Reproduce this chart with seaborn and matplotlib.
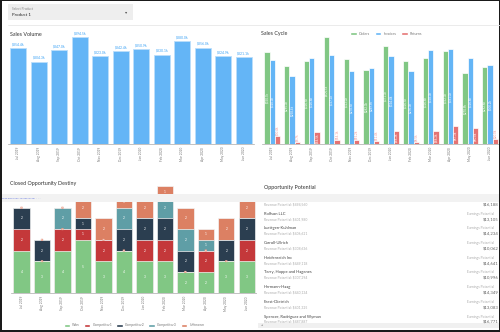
import numpy as np
import pandas as pd
import matplotlib
matplotlib.use("Agg")
import matplotlib.pyplot as plt
import seaborn as sns
from matplotlib.patches import Rectangle, Patch

# ---------------- data ----------------
months = ["Jul 2019", "Aug 2019", "Sep 2019", "Oct 2019", "Nov 2019", "Dec 2019",
          "Jan 2020", "Feb 2020", "Mar 2020", "Apr 2020", "May 2020", "Jun 2020"]
sales_volume = [354.4, 304.3, 347.0, 394.5, 323.0, 342.4, 350.9, 330.1, 380.0, 356.0, 324.9, 321.1]

orders = [350.7, 295.3, 316.5, 405.5, 323.0, 282.3, 371.3, 316.5, 326.8, 352.3, 270.9, 292.6]
invoices = [320.3, 258.4, 326.8, 337.1, 278.5, 289.9, 334.4, 276.3, 358.3, 361.0, 326.8, 300.2]
returns = [30.4, 8.7, 44.5, 14.1, 15.2, 11.4, 48.3, 6.5, 48.3, 67.3, 60.8, 20.0]
cycle_types = ["Orders", "Invoices", "Returns"]

won = [4, 3, 4, 5, 3, 4, 3, 3, 2, 2, 3, 3]
competitor1 = [2, 0, 2, 1, 2, 0, 2, 2, 0, 2, 0, 2]
competitor2 = [2, 2, 0, 1, 0, 2, 2, 2, 2, 0, 2, 2]
competitor3 = [0, 0, 2, 0, 0, 2, 0, 2, 2, 1, 0, 0]
unknown = [0, 0, 0, 2, 2, 1, 2, 1, 2, 1, 2, 2]
destiny_names = ["Won", "Competitor1", "Competitor2", "Competitor3", "Unknown"]

opp_first_revenue = 494560
opp_first_earnings = 16188
opp_names = ["Rolfson LLC", "Luettgen-Kuhlman", "Carroll-Ullrich", "Heidenreich Inc",
             "Terry, Hoppe and Hagenes", "Hermann-Haag", "Feest-Dietrich",
             "Spencer, Rodriguez and Wyman"]
opp_revenue = [401980, 406621, 308636, 449118, 307294, 440134, 401325, 487887]
opp_earnings = [13105, 14234, 10062, 14641, 10996, 14349, 13083, 16771]

# ---------------- style ----------------
sns.set_style("white")
plt.rcParams["font.family"] = ["Lato", "DejaVu Sans"]

GREEN, BLUE, RED = "#81c784", "#64b5f6", "#e57373"
DEST_COLORS = ["#81c784", "#c4383a", "#2b3e50", "#5f9ea6", "#dc8063"]

W, H = 500, 332
fig = plt.figure(figsize=(W / 100, H / 100), dpi=100)
fig.patch.set_facecolor("white")


def rect(x0, y0, x1, y1):
    return [x0 / W, 1 - y1 / H, (x1 - x0) / W, (y1 - y0) / H]


def style_cat_axis(ax, n):
    for s in ["top", "right", "left"]:
        ax.spines[s].set_visible(False)
    ax.spines["bottom"].set_color("#aaaaaa")
    ax.spines["bottom"].set_linewidth(0.5)
    ax.set_yticks([])
    ax.set_xlabel("")
    ax.set_ylabel("")
    ax.tick_params(axis="x", which="major", length=0, labelsize=2.3,
                   labelcolor="#777777", labelrotation=90, pad=2)
    ax.set_xticks(np.arange(n + 1) - 0.5, minor=True)
    ax.tick_params(axis="x", which="minor", length=1.5, width=0.4, color="#999999")
    ax.set_facecolor("none")


# ---------------- Sales Volume ----------------
ax_sv = fig.add_axes(rect(8, 30, 254, 144))
sv_df = pd.DataFrame({"month": months, "volume": sales_volume})
sns.barplot(data=sv_df, x="month", y="volume", color=BLUE, saturation=1, width=0.8,
            edgecolor="#bbdefb", linewidth=0.6, ax=ax_sv)
ax_sv.set_xlim(-0.5, 11.38)
ax_sv.set_ylim(0, 114 * 3.69)
style_cat_axis(ax_sv, len(months))
lbls = ax_sv.bar_label(ax_sv.containers[0], labels=[f"${v:.1f}k" for v in sales_volume],
                       padding=1.2, fontsize=2.5, color="#42a5f5")
for t in lbls:
    t.set_clip_on(True)

# ---------------- Sales Cycle ----------------
ax_sc = fig.add_axes(rect(262.3, 30, 500, 144))
sc_df = pd.DataFrame({
    "month": months * 3,
    "type": ["Orders"] * 12 + ["Invoices"] * 12 + ["Returns"] * 12,
    "value": orders + invoices + returns,
})
sns.barplot(data=sc_df, x="month", y="value", hue="type", hue_order=cycle_types,
            palette=[GREEN, BLUE, RED], saturation=1, width=0.8,
            edgecolor="white", linewidth=0.5, ax=ax_sc, legend=False)
ax_sc.set_xlim(-0.5, 11.04)
ax_sc.set_ylim(0, 114 * 3.8)
style_cat_axis(ax_sc, len(months))
for cont, vals in zip(ax_sc.containers[:2], [orders, invoices]):
    ax_sc.bar_label(cont, labels=[f"${v:.1f}k" for v in vals], label_type="center",
                    rotation=90, fontsize=2.2, color="white")
ret_c = ax_sc.containers[2]
inside = [f"${v:.1f}k" if v >= 40 else "" for v in returns]
outside = [f"${v:.1f}k" if v < 40 else "" for v in returns]
ax_sc.bar_label(ret_c, labels=inside, label_type="center", rotation=90, fontsize=2.2,
                color="white")
ax_sc.bar_label(ret_c, labels=outside, label_type="edge", rotation=90, fontsize=2.2,
                color="#ef9a9a", padding=0.8)
ax_sc.legend(handles=[Patch(facecolor=c, edgecolor="white") for c in [GREEN, BLUE, RED]],
             labels=cycle_types, loc="center", bbox_to_anchor=(386 / W, 1 - 34 / H),
             bbox_transform=fig.transFigure, ncol=3, frameon=False, fontsize=2.6,
             handlelength=1.9, handleheight=1.0, handletextpad=0.5, columnspacing=1.3,
             labelcolor="#777777")

# ---------------- Closed Opportunity Destiny ----------------
ax_co = fig.add_axes(rect(11.3, 184.2, 257, 293.3))
layers = [won, competitor1, competitor2, competitor3, unknown]
cums = np.cumsum(np.array(layers), axis=0)
for k in range(len(layers) - 1, -1, -1):
    sns.barplot(x=months, y=cums[k], color=DEST_COLORS[k], saturation=1, width=0.8,
                edgecolor="#f4f4f4", linewidth=0.5, ax=ax_co)
ax_co.set_xlim(-0.5, 11.37)
ax_co.set_ylim(0, 10.2)
style_cat_axis(ax_co, len(months))
for k, vals in enumerate(layers):
    bottoms = cums[k] - np.array(vals)
    for i, v in enumerate(vals):
        if v > 0:
            ax_co.text(i, bottoms[i] + v / 2, str(v), ha="center", va="center",
                       fontsize=2.3, color="white", clip_on=True)
        elif k in (1, 2, 4):
            ax_co.text(i, bottoms[i], "0", ha="center", va="center", fontsize=1.6,
                       color="white", clip_on=True,
                       bbox=dict(boxstyle="round,pad=0.25", fc="#e9a08c", ec="none"))
ax_co.legend(handles=[Patch(facecolor=c, edgecolor="white") for c in DEST_COLORS],
             labels=destiny_names, loc="center", bbox_to_anchor=(134 / W, 1 - 325.3 / H),
             bbox_transform=fig.transFigure, ncol=5, frameon=False, fontsize=2.5,
             handlelength=1.9, handleheight=1.0, handletextpad=0.6, columnspacing=1.1,
             labelcolor="#777777")

# ---------------- overlay (panels, titles, list) ----------------
ov = fig.add_axes([0, 0, 1, 1], zorder=10)
ov.set_xlim(0, W)
ov.set_ylim(H, 0)
ov.axis("off")
ov.patch.set_alpha(0)

# product selector
ov.add_patch(Rectangle((8, 4), 125, 16, fc="#eeeeee", ec="none"))
ov.text(12, 8.6, "Select Product", fontsize=2.3, color="#888888", va="center")
ov.text(12, 14.6, "Product 1", fontsize=3.2, color="#222222", va="center")
ov.text(126, 12, "▾", fontsize=3.2, color="#555555", va="center", ha="center",
        family=["DejaVu Sans"])
ov.plot([8, 500], [25, 25], color="#e8e8e8", lw=0.6)

# titles
title_kw = dict(fontsize=3.9, color="#333333", va="center")
ov.text(10, 34, "Sales Volume", **title_kw)
ov.text(261, 34, "Sales Cycle", **title_kw)
ov.text(10, 184, "Closed Opportunity Destiny", **title_kw)

# opportunity panel background
ov.add_patch(Rectangle((257, 176), 243, 154, fc="white", ec="none"))
ov.text(264, 187, "Opportunity Potential", **title_kw)

# grey band across both lower panels
ov.add_patch(Rectangle((0, 194), 500, 8, fc="#f2f2f2", ec="none"))
ov.text(2, 198.6, "2020 Ryan Chen  Salesforce.com  ·  ·  ·", fontsize=1.6, color="#5b6ee1",
        va="center")

# opportunity list
ov.text(264, 204.3, f"Revenue Potential: ${opp_first_revenue:,}", fontsize=2.4,
        color="#aaaaaa", va="center")
ov.text(483, 204.3, f"${opp_first_earnings:,}", fontsize=3.1, color="#666666", va="center")
for i, (nm, rv, er) in enumerate(zip(opp_names, opp_revenue, opp_earnings)):
    y = 213.7 + 14.7 * i
    ov.text(264, y, nm, fontsize=3.0, color="#444444", va="center")
    ov.text(264, y + 5.3, f"Revenue Potential: ${rv:,}", fontsize=2.4, color="#aaaaaa",
            va="center")
    ov.text(467, y, "Earnings Potential", fontsize=2.4, color="#aaaaaa", va="center")
    ov.text(483, y + 5.3, f"${er:,}", fontsize=3.1, color="#666666", va="center")

# horizontal scrollbar
ov.add_patch(Rectangle((258, 322.5), 242, 5, fc="#f0f0f0", ec="none"))
ov.text(262, 325, "◂", fontsize=2.5, color="#888888", va="center", ha="center",
        family=["DejaVu Sans"])

# dark outer frame
ov.add_patch(Rectangle((0, 0), 1.5, H, fc="#1a1a1a", ec="none"))
ov.add_patch(Rectangle((498.5, 0), 1.5, H, fc="#1a1a1a", ec="none"))
ov.add_patch(Rectangle((0, 329.5), W, 2.5, fc="#1a1a1a", ec="none"))
ov.add_patch(Rectangle((0, 0), W, 1, fc="#1a1a1a", ec="none"))

fig.savefig("out.png", dpi=100, facecolor="white")
